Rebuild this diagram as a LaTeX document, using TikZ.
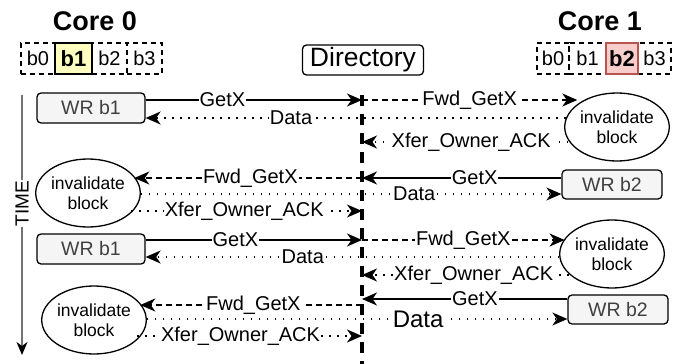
\documentclass[tikz,border=0pt]{standalone}
\usepackage{fontspec}
\setmainfont{Liberation Sans}
\usetikzlibrary{arrows.meta,shapes.geometric}
\definecolor{boxfill}{HTML}{F5F5F5}
\definecolor{hotyellow}{HTML}{FFFFC0}
\definecolor{hotred}{HTML}{F8CECC}
\definecolor{hotredline}{HTML}{B85450}
\begin{document}
\begin{tikzpicture}[x=1pt,y=-1pt,
  every node/.style={font=\fontsize{20}{22}\selectfont},
  corelbl/.style={font=\fontsize{27}{29}\selectfont\bfseries},
  cell/.style={draw, dash pattern=on 5pt off 4pt, line width=1.3pt, minimum height=31pt, inner sep=0pt, font=\fontsize{20}{22}\selectfont},
  hotcell/.style={cell, solid, font=\fontsize{22}{23}\selectfont\bfseries},
  dirbox/.style={draw, rounded corners=4pt, line width=1.3pt, minimum width=121pt, minimum height=30pt, inner sep=0pt, font=\fontsize{26.5}{28}\selectfont},
  wrbox/.style={draw, rounded corners=4pt, fill=boxfill, line width=1.3pt, minimum width=108pt, minimum height=30pt, inner sep=0pt, text=black!75, font=\fontsize{19.5}{21}\selectfont},
  wrboxb/.style={wrbox, minimum width=100pt, minimum height=29pt},
  inv/.style={draw, ellipse, minimum width=103pt, minimum height=68pt, line width=1.3pt, inner sep=0pt, align=center, font=\fontsize{17.5}{20}\selectfont},
  msg/.style={line width=1.4pt, -{Stealth[length=15pt,width=13pt,inset=4.5pt]}},
  solidmsg/.style={msg},
  dashmsg/.style={msg, dash pattern=on 6pt off 4pt},
  dotmsg/.style={msg, dash pattern=on 1.5pt off 6.5pt},
  lbl/.style={fill=white, inner sep=1pt},
  dirline/.style={line width=3.2pt, dash pattern=on 11pt off 8pt},
]
\useasboundingbox (0,0) rectangle (683,364);

% headers
\node[corelbl] (core0) at (95,21) {Core 0};
\node[corelbl] (core1) at (600,21) {Core 1};
\node[dirbox] (dir) at (363,60) {Directory};

% Core 0 cache
\node[cell, minimum width=34pt] (a0) at (38,58.5) {b0};
\node[cell, minimum width=35pt] (a2) at (109.5,58.5) {b2};
\node[cell, minimum width=35pt] (a3) at (144.5,58.5) {b3};
\node[hotcell, fill=hotyellow, minimum width=37pt] (a1) at (73.5,58.5) {b1};

% Core 1 cache
\node[cell, minimum width=32pt] (c0) at (553,58.5) {b0};
\node[cell, minimum width=37pt] (c1) at (587.5,58.5) {b1};
\node[cell, minimum width=33pt] (c3) at (654.5,58.5) {b3};
\node[hotcell, fill=hotred, draw=hotredline, minimum width=32pt] (c2) at (622,58.5) {b2};

% directory line
\coordinate (dtop) at (362,95);
\coordinate (dbot) at (362,366);
\draw[dirline] (dtop) -- (dbot);

% time axis
\coordinate (ttop) at (22,95);
\coordinate (tbot) at (22,355);
\draw[line width=1.2pt, black!55, -{Stealth[length=13pt,width=11pt,inset=4pt,color=black]}] (ttop) -- node[pos=0.417, fill=white, inner sep=1pt, rotate=90, text=black, font=\fontsize{19}{20}\selectfont] (time) {TIME} (tbot);

% ---------- Row 1 ----------
\node[wrbox] (w1) at (91,108) {WR b1};
\node[inv] (e1) at (617,127) {invalidate\\block};
\coordinate (c1g) at (362,100);
\coordinate (c1d) at (362,118);
\coordinate (c1x) at (362,142);
\draw[solidmsg] (w1.east |- c1g) -- node[lbl, pos=0.355] (l1g) {GetX} (c1g);
\draw[dashmsg] (c1g) -- node[lbl, pos=0.5] (l1f) {Fwd\_GetX} (e1.150 |- c1g);
\draw[dotmsg] (e1.170 |- c1d) -- node[lbl, pos=0.654] (l1d) {Data} (w1.east |- c1d);
\draw[dotmsg] (e1.195 |- c1x) -- node[lbl, pos=0.47] (l1x) {Xfer\_Owner\_ACK} (c1x);

% ---------- Row 2 ----------
\node[inv] (e2) at (88,193) {invalidate\\block};
\node[wrboxb] (w2) at (612,184.5) {WR b2};
\coordinate (c2g) at (362,178);
\coordinate (c2d) at (362,194);
\coordinate (c2x) at (362,211);
\draw[solidmsg] (w2.west |- c2g) -- node[lbl, pos=0.435] (l2g) {GetX} (c2g);
\draw[dashmsg] (c2g) -- node[lbl, pos=0.49] (l2f) {Fwd\_GetX} (e2.20 |- c2g);
\draw[dotmsg] (e2.0 |- c2d) -- node[lbl, pos=0.65] (l2d) {Data} (w2.west |- c2d);
\draw[dotmsg] (e2.-25 |- c2x) -- node[lbl, pos=0.49] (l2x) {Xfer\_Owner\_ACK} (c2x);

% ---------- Row 3 ----------
\node[wrbox] (w3) at (91,249) {WR b1};
\node[inv] (e3) at (612,254) {invalidate\\block};
\coordinate (c3g) at (362,240);
\coordinate (c3d) at (362,257);
\coordinate (c3x) at (362,275);
\draw[solidmsg] (w3.east |- c3g) -- node[lbl, pos=0.415] (l3g) {GetX} (c3g);
\draw[dashmsg] (c3g) -- node[lbl, pos=0.5] (l3f) {Fwd\_GetX} (e3.162 |- c3g);
\draw[dotmsg] (e3.180 |- c3d) -- node[lbl, pos=0.62] (l3d) {Data} (w3.east |- c3d);
\draw[dotmsg] (e3.205 |- c3x) -- node[lbl, pos=0.46] (l3x) {Xfer\_Owner\_ACK} (c3x);

% ---------- Row 4 ----------
\node[inv] (e4) at (94,320) {invalidate\\block};
\node[wrboxb] (w4) at (618,309.5) {WR b2};
\coordinate (c4g) at (362,299);
\coordinate (c4f) at (362,305);
\coordinate (c4d) at (362,319);
\coordinate (c4x) at (362,336);
\draw[solidmsg] (w4.west |- c4g) -- node[lbl, pos=0.45] (l4g) {GetX} (c4g);
\draw[dashmsg] (c4f) -- node[lbl, pos=0.49] (l4f) {Fwd\_GetX} (e4.20 |- c4f);
\draw[dotmsg] (e4.0 |- c4d) -- node[lbl, pos=0.645, font=\fontsize{24}{26}\selectfont] (l4d) {Data} (w4.west |- c4d);
\draw[dotmsg] (e4.-25 |- c4x) -- node[lbl, pos=0.46] (l4x) {Xfer\_Owner\_ACK} (c4x);
\end{tikzpicture}
\end{document}
